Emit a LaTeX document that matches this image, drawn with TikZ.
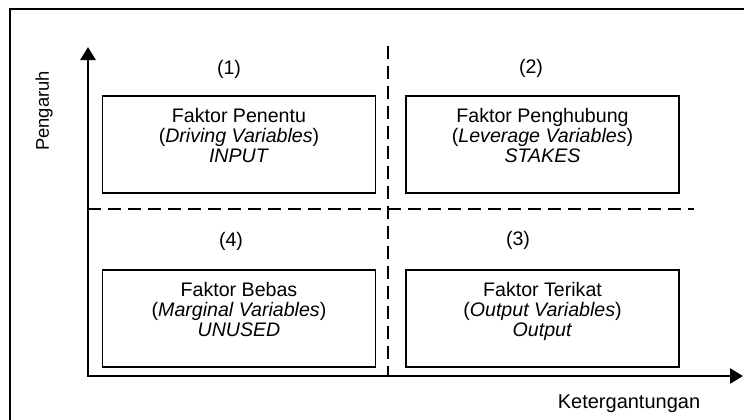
\documentclass[tikz,border=0pt]{standalone}
\usepackage{fontspec}
\setmainfont{Liberation Sans}
\usetikzlibrary{arrows.meta}
\begin{document}
\begin{tikzpicture}[x=0.5pt,y=-0.5pt,
  boxst/.style={draw=black,line width=0.8pt,minimum width=136.5pt,minimum height=48.5pt,inner sep=0pt},
  txt/.style={font=\fontsize{9.8}{10}\selectfont,align=center,inner sep=0pt,anchor=north},
  lbl/.style={font=\fontsize{9.8}{10}\selectfont,inner sep=0pt},
  axis/.style={line width=1.3pt,{Triangle[width=7.5pt,length=6.5pt]}-{Triangle[width=7.5pt,length=6.5pt]}},
  dsh/.style={line width=0.75pt,dash pattern=on 6.5pt off 3.5pt}]
\useasboundingbox (0,0) rectangle (744,419);
% frame (top and left edges visible)
\draw[line width=1pt] (10,419.5) -- (10,9) -- (745,9);
% dashed dividers
\coordinate (vt) at (388,46);
\coordinate (vb) at (388,377);
\coordinate (hl) at (88,209);
\coordinate (hr) at (694,209);
\draw[dsh] (vt) -- (vb);
\draw[dsh] (hl) -- (hr);
% axes
\coordinate (ytop) at (88,47);
\coordinate (orig) at (88,376);
\coordinate (xend) at (743,376);
\draw[axis] (ytop) -- (orig) -- (xend);
% boxes
\node[boxst] (b1) at (239,144.5) {};
\node[boxst] (b2) at (542.5,144.5) {};
\node[boxst] (b4) at (239,318.5) {};
\node[boxst] (b3) at (542.5,318.5) {};
\node[txt] (t1) at ([yshift=-6.3pt]b1.north) {Faktor Penentu\\(\textit{Driving Variables})\\\textit{INPUT}};
\node[txt] (t2) at ([yshift=-6.3pt]b2.north) {Faktor Penghubung\\(\textit{Leverage Variables})\\\textit{STAKES}};
\node[txt] (t4) at ([yshift=-6.3pt]b4.north) {Faktor Bebas\\(\textit{Marginal Variables})\\\textit{UNUSED}};
\node[txt] (t3) at ([yshift=-6.3pt]b3.north) {Faktor Terikat\\(\textit{Output Variables})\\\textit{Output}};
% quadrant numbers
\node[lbl] (n1) at (229,69) {(1)};
\node[lbl] (n2) at (531,68) {(2)};
\node[lbl] (n4) at (231,241) {(4)};
\node[lbl] (n3) at (518,240) {(3)};
% axis labels
\node[lbl,font=\fontsize{9.2}{10}\selectfont,rotate=90] (py) at (44,111) {Pengaruh};
\node[lbl,font=\fontsize{10}{10}\selectfont] (px) at (629,404) {Ketergantungan};
\end{tikzpicture}
\end{document}
